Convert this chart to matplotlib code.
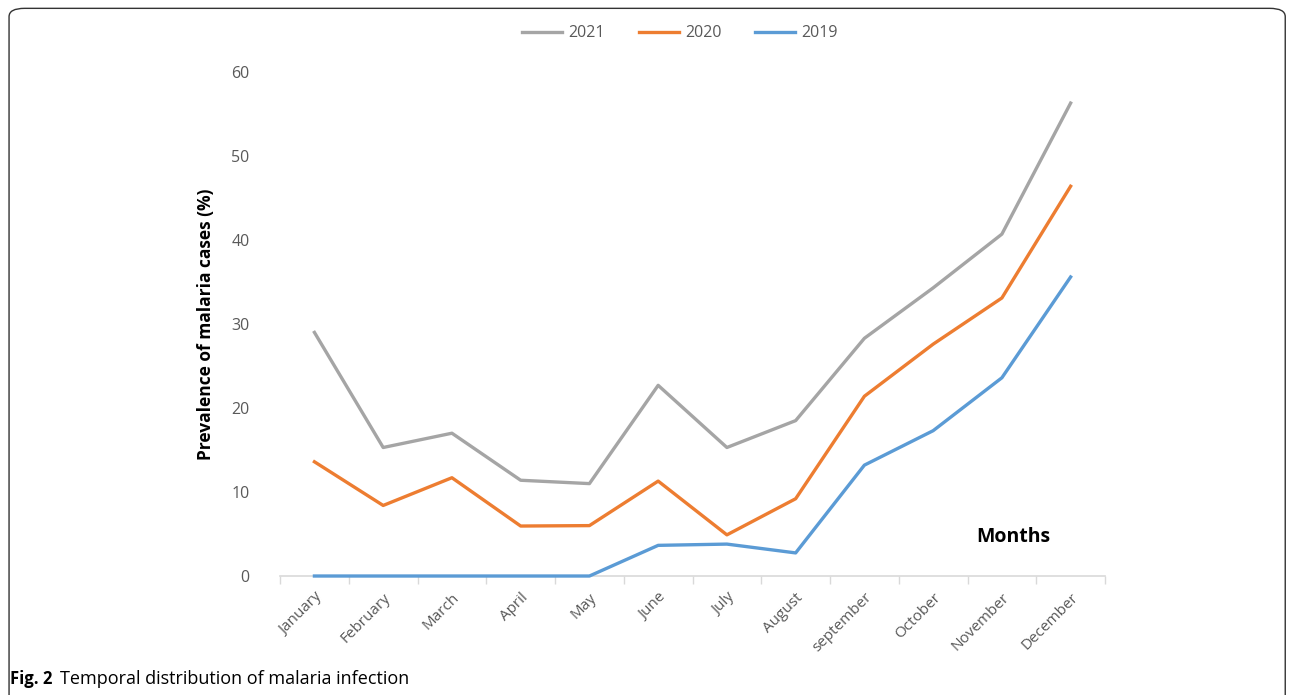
import matplotlib
matplotlib.use('Agg')
import matplotlib.pyplot as plt
from matplotlib.patches import FancyBboxPatch

plt.rcParams['font.family'] = ['Open Sans', 'DejaVu Sans']

months = ['January', 'February', 'March', 'April', 'May', 'June', 'July',
          'August', 'september', 'October', 'November', 'December']
y2021 = [29.0, 15.3, 17.0, 11.4, 11.0, 22.7, 15.3, 18.5, 28.3, 34.3, 40.7, 56.3]
y2020 = [13.6, 8.4, 11.7, 5.95, 6.0, 11.3, 4.9, 9.2, 21.4, 27.6, 33.1, 46.4]
y2019 = [0, 0, 0, 0, 0, 3.65, 3.8, 2.75, 13.2, 17.3, 23.6, 35.6]

series = [('2021', y2021, '#A5A5A5'), ('2020', y2020, '#ED7D31'), ('2019', y2019, '#5B9BD5')]

fig = plt.figure(figsize=(12.93, 6.95), dpi=100)
ax = fig.add_axes([0.2166, 0.1712, 0.638, 0.7252])

x = list(range(len(months)))
for name, vals, c in series:
    ax.plot(x, vals, color=c, lw=2.4, label=name, clip_on=False, zorder=4)

ax.set_xlim(-0.5, len(months) - 0.5)
ax.set_ylim(0, 60)
ax.set_yticks(range(0, 61, 10))
ax.tick_params(axis='y', length=0, labelsize=11.5, labelcolor='#595959', pad=22)
ax.set_xticks(x)
ax.set_xticklabels(months, rotation=45, ha='right', rotation_mode='anchor',
                   fontsize=11, color='#595959')
ax.tick_params(axis='x', length=0, pad=10)
# boundary ticks like Excel
ax.set_xticks([i - 0.5 for i in range(len(months) + 1)], minor=True)
ax.tick_params(axis='x', which='minor', length=6, color='#D9D9D9', width=1)
for s in ['top', 'right', 'left']:
    ax.spines[s].set_visible(False)
ax.spines['bottom'].set_color('#D9D9D9')
ax.spines['bottom'].set_linewidth(1.2)

ax.set_ylabel('Prevalence of malaria cases (%)', fontsize=12.5, fontweight='bold',
              labelpad=12)
ax.text(0.844, 0.077, 'Months', transform=ax.transAxes, fontsize=14,
        fontweight='bold', ha='left', va='center')

fig.legend(loc='center', bbox_to_anchor=(0.526, 0.952), ncol=3, frameon=False,
           fontsize=11.5, handlelength=2.5, columnspacing=2.1, handletextpad=0.4,
           labelcolor='#595959')

# figure frame
frame = FancyBboxPatch((0.007, -0.05), 0.987, 1.038, boxstyle='round,pad=0,rounding_size=0.012',
                       transform=fig.transFigure, fill=False, ec='#333333', lw=1.0)
fig.patches.append(frame)

t = fig.text(0.008, 0.016, 'Fig. 2', fontsize=12, fontweight='bold', va='baseline')
ax.annotate('Temporal distribution of malaria infection', xy=(1, 0), xycoords=t,
            xytext=(5, 0), textcoords='offset points', fontsize=13, va='bottom',
            annotation_clip=False)

fig.savefig('out.png', dpi=100)
